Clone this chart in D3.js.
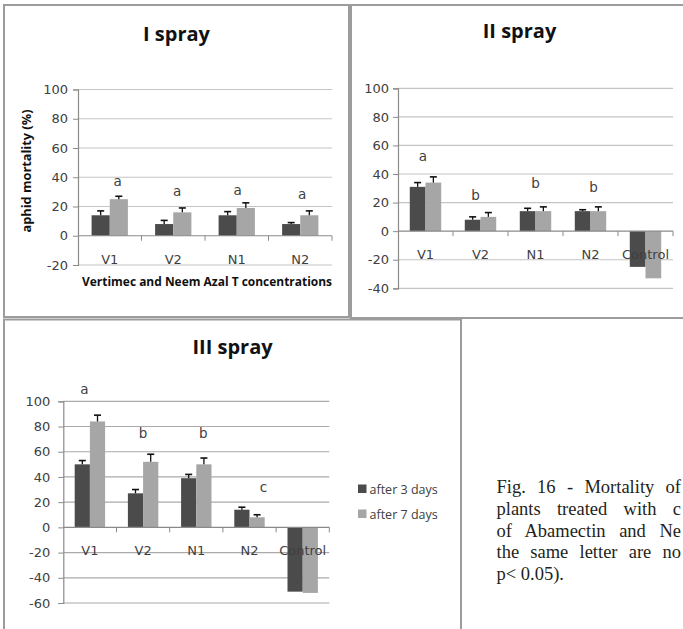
<!DOCTYPE html>
<html>
<head>
<meta charset="utf-8">
<script src="https://cdn.jsdelivr.net/npm/d3@7/dist/d3.min.js"></script>
<style>
  html, body { margin: 0; padding: 0; background: #fff; }
  svg { display: block; }
</style>
</head>
<body>
<svg id="fig" width="683" height="629"></svg>
<script>
// ---- data ----
const categoriesShort = ["V1", "V2", "N1", "N2"];
const categoriesFull = ["V1", "V2", "N1", "N2", "Control"];
const seriesNames = ["after 3 days", "after 7 days"];

// I spray
const after3I = [14, 8, 14, 8];
const after7I = [25, 16, 19, 14];
const err3I = [3, 2.5, 2.5, 1];
const err7I = [2, 3, 3.5, 3];
const lettersI = ["a", "a", "a", "a"];
const letterLevelI = [34, 27, 28, 25];
const ticksI = [-20, 0, 20, 40, 60, 80, 100];

// II spray
const after3II = [31, 8, 14, 14, -25];
const after7II = [34, 10, 14, 14, -33];
const err3II = [3, 2, 2, 1, 0];
const err7II = [4, 3, 3, 3, 0];
const lettersII = ["a", "b", "b", "b", ""];
const letterLevelII = [49, 22, 30, 27.5, 0];
const ticksII = [-40, -20, 0, 20, 40, 60, 80, 100];

// III spray
const after3III = [50, 27, 39, 14, -51];
const after7III = [84, 52, 50, 8, -52];
const err3III = [3, 3, 3, 2, 0];
const err7III = [5, 6, 5, 2, 0];
const lettersIII = ["a", "b", "b", "c", ""];
const letterLevelIII = [106, 71, 71, 28, 0];
const ticksIII = [-60, -40, -20, 0, 20, 40, 60, 80, 100];

// caption lines as far as they run before the page edge
const captionLines = [
  "Fig. 16 - Mortality of",
  "plants treated with c",
  "of Abamectin and Ne",
  "the same letter are no",
  "p< 0.05)."
];

// ---- styles ----
const DARK = "#4b4b4b", LIGHT = "#a6a6a6";
const TEXT = "#404040";
const NUM_FONT = "'DejaVu Sans', 'Liberation Sans', sans-serif";
const HEAD_FONT = "'Open Sans', Lato, sans-serif";
const svg = d3.select("#fig");

function drawPanel(cfg) {
  const g = svg.append("g");
  // frame
  g.append("rect")
    .attr("x", cfg.frame[0]).attr("y", cfg.frame[1])
    .attr("width", cfg.frame[2] - cfg.frame[0]).attr("height", cfg.frame[3] - cfg.frame[1])
    .attr("fill", "#fff").attr("stroke", "#9c9c9c").attr("stroke-width", 2);

  // title
  g.append("text")
    .attr("x", (cfg.frame[0] + cfg.frame[2]) / 2 + (cfg.titleDx || 0))
    .attr("y", cfg.titleY)
    .attr("text-anchor", "middle")
    .attr("font-family", HEAD_FONT)
    .attr("font-weight", 700).attr("font-size", 20)
    .attr("fill", "#111")
    .text(cfg.title);

  const x = d3.scaleBand().domain(cfg.categories).range([cfg.x0, cfg.x1]).paddingInner(0).paddingOuter(0);
  const sub = d3.scaleBand().domain([0, 1]).range([0, x.bandwidth()]).paddingInner(0).paddingOuter(0.75);
  const y = d3.scaleLinear().domain(cfg.domain).range([cfg.yBottom, cfg.yTop]);

  // gridlines
  g.append("g").selectAll("line")
    .data(cfg.ticks.filter(t => t !== 0))
    .join("line")
    .attr("x1", cfg.x0).attr("x2", cfg.x1)
    .attr("y1", d => y(d)).attr("y2", d => y(d))
    .attr("stroke", cfg.gridColor).attr("stroke-width", 1.2);

  // y axis
  const yAxis = d3.axisLeft(y).tickValues(cfg.ticks).tickSize(5).tickPadding(cfg.tickPad).tickFormat(d => String(d));
  const ya = g.append("g").attr("transform", `translate(${cfg.x0},0)`).call(yAxis);
  ya.select(".domain").attr("stroke", "#8a8a8a").attr("stroke-width", 1.2);
  ya.selectAll(".tick line").attr("stroke", "#8a8a8a");
  ya.selectAll(".tick text")
    .attr("font-family", NUM_FONT)
    .attr("font-size", 13).attr("fill", TEXT);

  // bars
  const rows = cfg.categories.map((c, i) => ({
    c, i,
    vals: [cfg.s3[i], cfg.s7[i]],
    errs: [cfg.e3[i], cfg.e7[i]]
  }));
  const flat = rows.flatMap(r => [0, 1].map(k => ({ c: r.c, k, v: r.vals[k], e: r.errs[k] })));

  g.append("g").selectAll("rect")
    .data(flat)
    .join("rect")
    .attr("x", d => x(d.c) + sub(d.k))
    .attr("width", sub.bandwidth())
    .attr("y", d => y(Math.max(0, d.v)))
    .attr("height", d => Math.abs(y(d.v) - y(0)))
    .attr("fill", d => d.k === 0 ? DARK : LIGHT);

  // error bars (upper half)
  const eb = g.append("g").selectAll("g")
    .data(flat.filter(d => d.e > 0))
    .join("g")
    .attr("transform", d => `translate(${x(d.c) + sub(d.k) + sub.bandwidth() / 2},0)`);
  eb.append("line")
    .attr("y1", d => y(d.v)).attr("y2", d => y(d.v + d.e))
    .attr("stroke", "#111").attr("stroke-width", 1.3);
  eb.append("line")
    .attr("x1", -3.5).attr("x2", 3.5)
    .attr("y1", d => y(d.v + d.e)).attr("y2", d => y(d.v + d.e))
    .attr("stroke", "#111").attr("stroke-width", 1.6);

  // x axis along zero
  const xAxisY = y(0);
  g.append("line")
    .attr("x1", cfg.x0).attr("x2", cfg.x1)
    .attr("y1", xAxisY).attr("y2", xAxisY)
    .attr("stroke", "#8a8a8a").attr("stroke-width", 1.2);
  const bounds = cfg.categories.map(c => x(c) + x.bandwidth());
  g.append("g").selectAll("line")
    .data(bounds)
    .join("line")
    .attr("x1", d => d).attr("x2", d => d)
    .attr("y1", xAxisY).attr("y2", xAxisY + 5)
    .attr("stroke", "#8a8a8a");

  // category labels
  g.append("g").selectAll("text")
    .data(cfg.categories)
    .join("text")
    .attr("x", d => x(d) + x.bandwidth() / 2)
    .attr("y", xAxisY + 28)
    .attr("text-anchor", "middle")
    .attr("font-family", NUM_FONT)
    .attr("font-size", 13).attr("fill", TEXT)
    .text(d => d);

  // significance letters
  g.append("g").selectAll("text")
    .data(cfg.categories.map((c, i) => ({ c, i, t: cfg.letters[i], lv: cfg.letterLevel[i] })).filter(d => d.t))
    .join("text")
    .attr("x", d => x(d.c) + x.bandwidth() / 2 + cfg.letterNudge[d.i])
    .attr("y", d => y(d.lv))
    .attr("text-anchor", "middle")
    .attr("font-family", NUM_FONT)
    .attr("font-size", 13.5).attr("fill", TEXT)
    .text(d => d.t);

  return { g, x, y };
}

// I spray
const p1 = drawPanel({
  frame: [4, 5, 349, 317], title: "I spray", titleY: 41,
  categories: categoriesShort, x0: 78, x1: 332,
  domain: [-20, 100], yBottom: 265, yTop: 89.5, ticks: ticksI, tickPad: 5,
  s3: after3I, s7: after7I, e3: err3I, e7: err7I,
  letters: lettersI, letterLevel: letterLevelI, letterNudge: [8, 4, 1, 2],
  gridColor: "#c4c4c4"
});
p1.g.append("text")
  .attr("transform", "translate(31,171) rotate(-90)")
  .attr("text-anchor", "middle")
  .attr("font-family", HEAD_FONT)
  .attr("font-weight", 700).attr("font-size", 12).attr("fill", "#111")
  .attr("textLength", 123).attr("lengthAdjust", "spacingAndGlyphs")
  .text("aphid mortality (%)");
p1.g.append("text")
  .attr("x", 207).attr("y", 286)
  .attr("text-anchor", "middle")
  .attr("font-family", HEAD_FONT)
  .attr("font-weight", 700).attr("font-size", 12).attr("fill", "#111")
  .attr("textLength", 250).attr("lengthAdjust", "spacingAndGlyphs")
  .text("Vertimec and Neem Azal T concentrations");

// II spray
drawPanel({
  frame: [351, 5, 690, 318], title: "II spray", titleY: 37.5, titleDx: -1,
  categories: categoriesFull, x0: 398, x1: 673,
  domain: [-40, 100], yBottom: 288.3, yTop: 88.3, ticks: ticksII, tickPad: 4,
  s3: after3II, s7: after7II, e3: err3II, e7: err7II,
  letters: lettersII, letterLevel: letterLevelII, letterNudge: [-2.5, -5, 0, 3, 0],
  gridColor: "#c4c4c4"
});

// III spray
const p3 = drawPanel({
  frame: [4, 319.5, 461, 640], title: "III spray", titleY: 354,
  categories: categoriesFull, x0: 63.3, x1: 329.3,
  domain: [-60, 100], yBottom: 603, yTop: 401.3, ticks: ticksIII, tickPad: 8,
  s3: after3III, s7: after7III, e3: err3III, e7: err7III,
  letters: lettersIII, letterLevel: letterLevelIII, letterNudge: [-5.5, 0, 7, 14, 0],
  gridColor: "#aaaaaa"
});

// legend
const legend = p3.g.append("g").selectAll("g")
  .data(seriesNames)
  .join("g")
  .attr("transform", (d, i) => `translate(358,${489 + i * 25})`);
legend.append("rect")
  .attr("x", 0).attr("y", -4.5).attr("width", 8.5).attr("height", 8.5)
  .attr("fill", (d, i) => i === 0 ? DARK : LIGHT);
legend.append("text")
  .attr("x", 11.5).attr("y", 4.5)
  .attr("font-family", HEAD_FONT)
  .attr("font-size", 12.5).attr("fill", TEXT)
  .text(d => d);

// caption: justified lines that run up to the right edge
const capLeft = 496.5, capRight = 681;
const cap = svg.append("g").selectAll("text")
  .data(captionLines)
  .join("text")
  .attr("x", capLeft)
  .attr("y", (d, i) => 493 + i * 21.75)
  .attr("font-family", "'Liberation Serif', 'Times New Roman', serif")
  .attr("font-size", 18.5).attr("fill", "#231f20")
  .text(d => d);
cap.each(function (d, i) {
  if (i === captionLines.length - 1) return;
  const gaps = d.split(" ").length - 1;
  const natural = this.getComputedTextLength();
  const extra = Math.max(0, (capRight - capLeft - natural) / gaps);
  d3.select(this).attr("word-spacing", extra);
});
</script>
</body>
</html>
